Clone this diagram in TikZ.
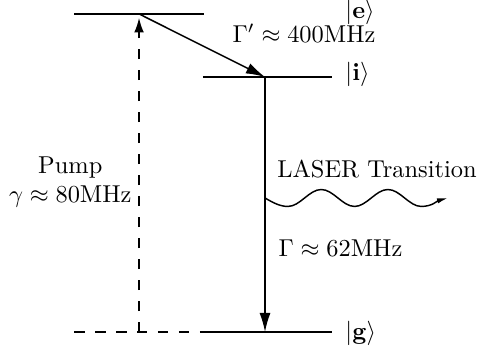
\documentclass[tikz,border=0pt]{standalone}
\usepackage{amsmath, amssymb}
\usetikzlibrary{arrows.meta}

\tikzset{
    level/.style={semithick},
    pumpline/.style={semithick, dash pattern=on 4.3pt off 4.3pt},
    decayarrow/.style={semithick, -{Latex[length=7.8pt, width=4.5pt]}},
    ketlabel/.style={anchor=west, inner sep=0pt},
}

\begin{document}
\begin{tikzpicture}
        \useasboundingbox (0,0) rectangle (6.883,5.011);

        % === 準位の座標 ===
        \coordinate (eL) at (1.066,4.810);
        \coordinate (eR) at (2.938,4.810);
        \coordinate (eP) at (2.002,4.810); % ポンプの上端
        \coordinate (iL) at (2.923,3.902);
        \coordinate (iR) at (4.781,3.902);
        \coordinate (iD) at (3.816,3.902); % 減衰の始点
        \coordinate (gL) at (1.066,0.230);
        \coordinate (gM) at (2.880,0.230);
        \coordinate (gR) at (4.781,0.230);
        \coordinate (gP) at (2.002,0.230);
        \coordinate (gD) at (3.816,0.230);

        % 準位の横線
        \draw[level] (eL) -- (eR);
        \draw[level] (iL) -- (iR);
        \draw[level] (gM) -- (gR);
        \draw[pumpline] (gL) -- (gM);

        % 準位のラベル
        \node[ketlabel] (ketE) at (4.968,4.830) {$|\mathbf{e}\rangle$};
        \node[ketlabel] (ketI) at (4.968,3.946) {$|\mathbf{i}\rangle$};
        \node[ketlabel] (ketG) at (4.968,0.216) {$|\mathbf{g}\rangle$};

        % ポンプ（点線）
        \draw[pumpline, -{Latex[length=6pt, width=4pt]}, shorten >=1.6pt] (gP) -- (eP);
        \node[anchor=east, align=center] (pump) at (2.018,2.390) {Pump\\$\gamma \approx 80\text{MHz}$};

        % 減衰
        \draw[decayarrow] (eP) -- (iD);
        \node[inner sep=0pt] (rateE) at (4.378,4.536) {$\Gamma' \approx 400\text{MHz}$};
        \draw[decayarrow] (iD) -- (gD);
        \node (rateI) at (4.903,1.440) {$\Gamma \approx 62\text{MHz}$};

        % レーザー遷移（波線）
        \coordinate (wS) at (3.816,2.160);
        \coordinate (wE) at (6.451,2.160);
        \draw[semithick, -{Latex[length=4.5pt, width=2.2pt]}] (wS)
            sin ++(0.33,-0.122) cos ++(0.24,0.122) sin ++(0.24,0.122) cos ++(0.24,-0.122)
            sin ++(0.24,-0.122) cos ++(0.24,0.122) sin ++(0.24,0.122) cos ++(0.24,-0.122)
            sin ++(0.24,-0.122) to[out=0, in=195] (wE);
        \node (laser) at (5.429,2.570) {LASER Transition};
    \end{tikzpicture}
\end{document}
